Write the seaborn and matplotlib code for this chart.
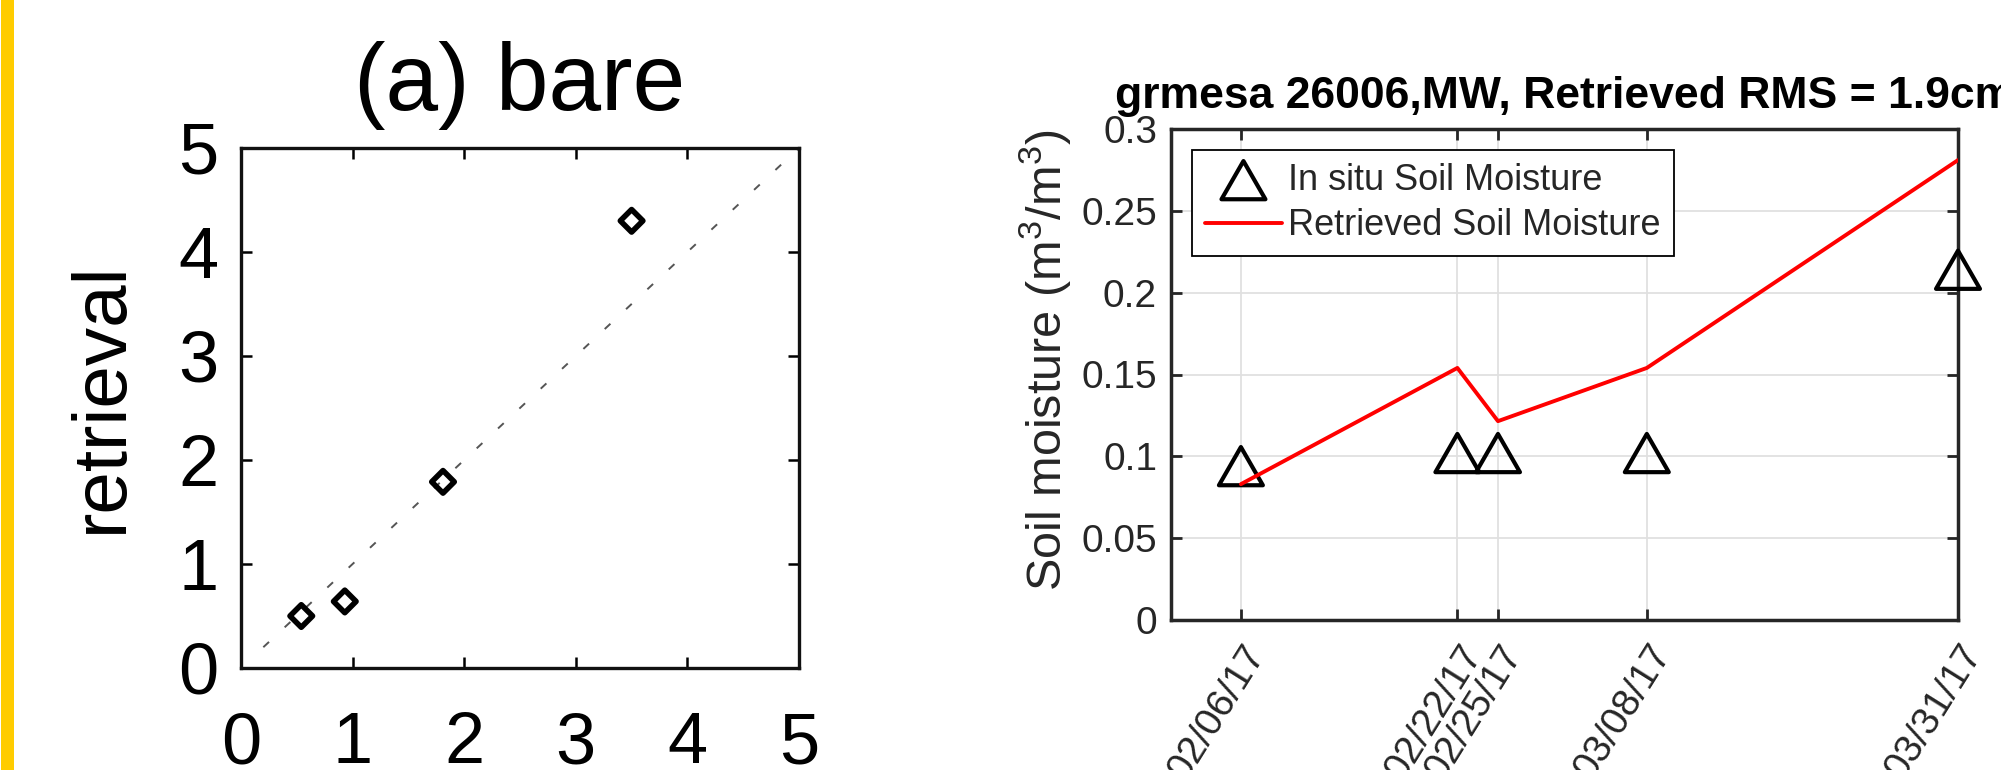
import numpy as np
import pandas as pd
import matplotlib
matplotlib.use("Agg")
import matplotlib.pyplot as plt
import seaborn as sns
from matplotlib.path import Path
from matplotlib.patches import Rectangle
from matplotlib.transforms import ScaledTranslation

# ---------------- data ----------------
bare_measured = [0.54, 0.93, 1.81, 3.50]
bare_retrieved = [0.50, 0.64, 1.79, 4.30]
one_to_one = [0.2, 5.0]
left_ticks = [0, 1, 2, 3, 4, 5]

obs_dates = ["2017-02-06", "2017-02-22", "2017-02-25", "2017-03-08", "2017-03-31"]
insitu_sm = [0.094, 0.102, 0.102, 0.102, 0.214]
retrieved_sm = [0.083, 0.154, 0.1215, 0.154, 0.281]
sm_ticks = [0, 0.05, 0.1, 0.15, 0.2, 0.25, 0.3]
sm_tick_labels = ["0", "0.05", "0.1", "0.15", "0.2", "0.25", "0.3"]

# ---------------- style ----------------
sns.set_theme(style="white")
plt.rcParams["font.family"] = ["Liberation Sans", "DejaVu Sans"]
plt.rcParams["mathtext.fontset"] = "custom"
plt.rcParams["mathtext.rm"] = "Liberation Sans"
plt.rcParams["mathtext.it"] = "Liberation Sans"
plt.rcParams["text.color"] = "#262626"
plt.rcParams["axes.labelcolor"] = "#262626"
plt.rcParams["xtick.color"] = "#262626"
plt.rcParams["ytick.color"] = "#262626"

W, H = 2001, 770
fig = plt.figure(figsize=(W / 100, H / 100), dpi=100)
fig.patch.set_facecolor("white")

# yellow side bar
fig.patches.append(Rectangle((1 / W, 0), 13 / W, 1, transform=fig.transFigure,
                             facecolor="#FFCC00", edgecolor="none"))

# ---------------- left panel ----------------
axL = fig.add_axes([241 / W, 1 - 668 / H, 558 / W, 520 / H])
sns.lineplot(x=one_to_one, y=one_to_one, ax=axL, color="#555555", lw=1.4,
             linestyle=(0, (4, 11)))
sns.scatterplot(x=bare_measured, y=bare_retrieved, ax=axL, marker="D", s=11.5 ** 2,
                facecolors="none", edgecolors="black", linewidths=4, zorder=3)
axL.set_xlim(0, 5)
axL.set_ylim(0, 5)
axL.set_xticks(left_ticks)
axL.set_yticks(left_ticks)
axL.set_xticklabels([str(t) for t in left_ticks])
axL.set_yticklabels([str(t) for t in left_ticks])
axL.tick_params(direction="in", length=8, width=1.8, top=True, right=True,
                bottom=True, left=True, labelsize=52, colors="black")
axL.tick_params(axis="x", pad=31)
axL.tick_params(axis="y", pad=16)
for sp in axL.spines.values():
    sp.set_linewidth(2.4)
    sp.set_color("#111111")
axL.set_title("(a) bare", fontsize=68, pad=27, color="black")
axL.set_ylabel("retrieval", fontsize=55, color="black")
axL.yaxis.set_label_coords(-0.185, 0.52)

# ---------------- right panel ----------------
axR = fig.add_axes([1171 / W, 1 - 620 / H, 787 / W, 491 / H])
dates = pd.to_datetime(obs_dates)
axR.grid(True, color="#e0e0e0", lw=1.3)
axR.set_axisbelow(True)

tri = Path([(0, 1), (-1.15, -1), (1.15, -1), (0, 1)],
           [Path.MOVETO, Path.LINETO, Path.LINETO, Path.CLOSEPOLY])
sns.scatterplot(x=dates, y=insitu_sm, ax=axR, marker=tri, s=1000,
                facecolors="none", edgecolors="black", linewidths=3,
                zorder=3, clip_on=False)
sns.lineplot(x=dates, y=retrieved_sm, ax=axR, color="red", lw=2.8, zorder=4)

axR.set_xlim(pd.Timestamp("2017-01-31 20:00"), pd.Timestamp("2017-03-31"))
axR.set_ylim(0, 0.3)
axR.set_yticks(sm_ticks)
axR.set_yticklabels(sm_tick_labels)
axR.set_xticks(dates)
axR.set_xticklabels([d.strftime("%m/%d/%y") for d in dates])
axR.set_xlabel("")
axR.tick_params(direction="in", length=8, width=2, top=True, right=True,
                bottom=True, left=True, labelsize=28)
axR.tick_params(axis="y", pad=10)
axR.tick_params(axis="x", pad=20)
offset = ScaledTranslation(12 / 72, 0, fig.dpi_scale_trans)
for lab in axR.get_xticklabels():
    lab.set_rotation(58)
    lab.set_ha("right")
    lab.set_va("center")
    lab.set_rotation_mode("anchor")
    lab.set_transform(lab.get_transform() + offset)
for sp in axR.spines.values():
    sp.set_linewidth(2.5)
    sp.set_color("#262626")
axR.set_title("grmesa 26006,MW, Retrieved RMS = 1.9cm", fontsize=32,
              fontweight="bold", pad=15, color="black")
axR.set_ylabel("Soil moisture (m$^3$/m$^3$)", fontsize=35)
axR.yaxis.set_label_coords(-0.125, 0.53)

coll = axR.collections[0]
line = axR.lines[0]
leg = axR.legend([coll, line], ["In situ Soil Moisture", "Retrieved Soil Moisture"],
                 loc="upper left", bbox_to_anchor=(1192 / W, 1 - 150 / H),
                 bbox_transform=fig.transFigure, borderaxespad=0,
                 frameon=True, fancybox=False, edgecolor="black", framealpha=1,
                 fontsize=26, handlelength=2.15, handletextpad=0.17,
                 borderpad=0.35, labelspacing=0.3, scatterpoints=1)
leg.get_frame().set_linewidth(1.3)

fig.savefig("out.png", dpi=100)
